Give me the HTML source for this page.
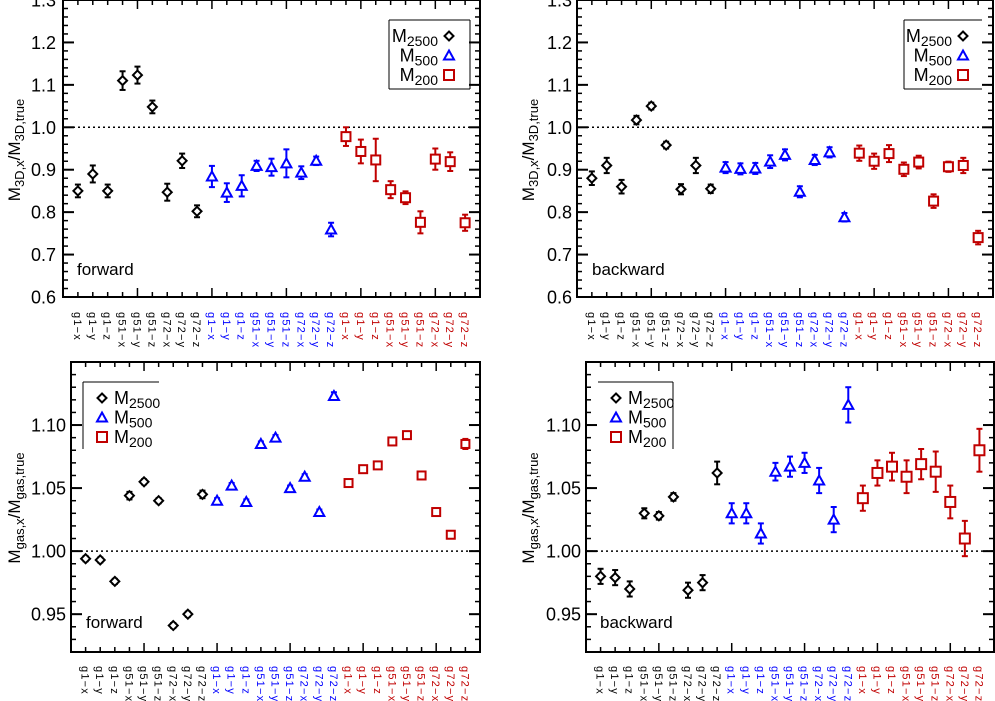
<!DOCTYPE html>
<html><head><meta charset="utf-8"><style>
html,body{margin:0;padding:0;background:#fff;}
svg{display:block;font-family:"Liberation Sans","DejaVu Sans",sans-serif;}
</style></head><body>
<svg id="fig" width="995" height="701" viewBox="0 0 995 701" xmlns="http://www.w3.org/2000/svg"></svg>
<script>
const categories=["g1\u2212x","g1\u2212y","g1\u2212z","g51\u2212x","g51\u2212y","g51\u2212z","g72\u2212x","g72\u2212y","g72\u2212z"];
const tlBlack=[0.850,0.890,0.850,1.110,1.123,1.048,0.847,0.921,0.802];
const tlBlackErr=[0.015,0.02,0.015,0.022,0.02,0.015,0.02,0.017,0.014];
const tlBlue=[0.884,0.846,0.862,0.909,0.906,0.915,0.893,0.921,0.759];
const tlBlueErr=[0.025,0.022,0.025,0.012,0.02,0.033,0.015,0.01,0.016];
const tlRed=[0.978,0.943,0.923,0.853,0.834,0.776,0.925,0.919,0.775];
const tlRedErr=[0.022,0.028,0.05,0.02,0.015,0.026,0.025,0.022,0.019];
const trBlack=[0.880,0.910,0.860,1.017,1.050,0.958,0.854,0.910,0.855];
const trBlackErr=[0.016,0.018,0.016,0.01,0.008,0.008,0.012,0.018,0.01];
const trBlue=[0.905,0.902,0.903,0.919,0.935,0.848,0.923,0.941,0.788];
const trBlueErr=[0.013,0.013,0.013,0.015,0.013,0.013,0.012,0.012,0.01];
const trRed=[0.939,0.920,0.938,0.901,0.918,0.826,0.907,0.910,0.740];
const trRedErr=[0.018,0.018,0.02,0.016,0.015,0.016,0.012,0.018,0.016];
const blBlack=[0.994,0.993,0.976,1.044,1.055,1.040,0.941,0.950,1.045];
const blBlackErr=[0.002,0.002,0.002,0.003,0.002,0.002,0.002,0.002,0.003];
const blBlue=[1.040,1.052,1.039,1.085,1.090,1.050,1.059,1.031,1.123];
const blBlueErr=[0.002,0.002,0.002,0.002,0.002,0.002,0.002,0.002,0.003];
const blRed=[1.054,1.065,1.068,1.087,1.092,1.060,1.031,1.013,1.085];
const blRedErr=[0.002,0.002,0.002,0.003,0.002,0.002,0.003,0.002,0.004];
const brBlack=[0.980,0.979,0.970,1.030,1.028,1.043,0.969,0.975,1.062];
const brBlackErr=[0.006,0.006,0.006,0.004,0.003,0.003,0.006,0.006,0.009];
const brBlue=[1.030,1.030,1.014,1.063,1.067,1.070,1.056,1.025,1.116];
const brBlueErr=[0.008,0.008,0.008,0.007,0.008,0.008,0.010,0.010,0.014];
const brRed=[1.042,1.062,1.067,1.059,1.069,1.063,1.039,1.010,1.080];
const brRedErr=[0.010,0.010,0.011,0.013,0.012,0.016,0.013,0.014,0.017];
const topTicks=["0.6","0.7","0.8","0.9","1.0","1.1","1.2","1.3"];
const botTicks=["0.95","1.00","1.05","1.10"];

const NS="http://www.w3.org/2000/svg";
const svg=document.getElementById('fig');
const BLACK="#000",BLUE="#0000ff",RED="#c00000";
function mk(tag,attrs,parent){const e=document.createElementNS(NS,tag);for(const k in attrs)e.setAttribute(k,attrs[k]);(parent||svg).appendChild(e);return e;}

function panel(cfg){
  const g=mk('g',{});
  
  
  const L=cfg.x0,R=cfg.x1,T=cfg.y0,B=cfg.y1;
  const xs=i=>L+(R-L)*(i/28);
  const ys=v=>B-(v-cfg.ymin)/(cfg.ymax-cfg.ymin)*(B-T);
  for(let v=cfg.ymin;v<=cfg.ymax+1e-9;v+=cfg.minor){
    const y=ys(v);if(y<T-0.5)continue;
    mk('line',{x1:L,x2:L+5,y1:y,y2:y,stroke:'#000','stroke-width':1.5},g);
    mk('line',{x1:R,x2:R-5,y1:y,y2:y,stroke:'#000','stroke-width':1.5},g);
  }
  cfg.ticks.forEach(t=>{
    const v=parseFloat(t),y=ys(v);
    mk('line',{x1:L,x2:L+11,y1:y,y2:y,stroke:'#000','stroke-width':2},g);
    mk('line',{x1:R,x2:R-11,y1:y,y2:y,stroke:'#000','stroke-width':2},g);
    const tx=mk('text',{x:cfg.labX,y:y+6.5,'text-anchor':'end','font-size':18},g);
    tx.textContent=t;
    
    
  });
  for(let i=1;i<28;i++){
    const len=i%5===0?9:5;
    mk('line',{x1:xs(i),x2:xs(i),y1:B,y2:B-len,stroke:'#000','stroke-width':1.5},g);
    mk('line',{x1:xs(i),x2:xs(i),y1:T,y2:T+len,stroke:'#000','stroke-width':1.5},g);
  }
  const fr=mk('rect',{x:L,y:T,width:R-L,height:B-T,fill:'none',stroke:'#000','stroke-width':2},g);
  
  
  const ref=mk('line',{x1:L,x2:R,y1:ys(1),y2:ys(1),stroke:'#000','stroke-width':1.5,'stroke-dasharray':'2,3'},g);
  
  
  const series=[[cfg.black,cfg.blackErr,BLACK,'diamond'],[cfg.blue,cfg.blueErr,BLUE,'triangle'],[cfg.red,cfg.redErr,RED,'square']];
  series.forEach((s,si)=>{
    s[0].forEach((v,j)=>{
      const i=si*9+j+1,x=xs(i),y=ys(v),e=s[1][j];
      const eg=mk('g',{},g);
      
      
      mk('line',{x1:x,x2:x,y1:ys(v+e),y2:ys(v-e),stroke:s[2],'stroke-width':2},eg);
      mk('line',{x1:x-3,x2:x+3,y1:ys(v+e),y2:ys(v+e),stroke:s[2],'stroke-width':2},eg);
      mk('line',{x1:x-3,x2:x+3,y1:ys(v-e),y2:ys(v-e),stroke:s[2],'stroke-width':2},eg);
      symbol(eg,s[3],x,y,s[2],cfg.sym);
    });
    categories.forEach((c,j)=>{
      const i=si*9+j+1,x=xs(i);
      const t=mk('text',{x:0,y:0,transform:`translate(${x-4},${cfg.labY}) rotate(90)`,'font-size':11,fill:s[2],'letter-spacing':'1.2'},g);
      t.textContent=c;
      
      
    });
  });
  const yt=mk('text',{transform:`translate(${cfg.titleX},${cfg.titleY}) rotate(-90)`,'text-anchor':'middle','font-size':17},g);
  yt.innerHTML=cfg.title;
  
  
  const lb=mk('text',{x:cfg.tagX,y:cfg.tagY,'font-size':17},g);
  lb.textContent=cfg.tag;
  
  
  legend(g,cfg);
}
function symbol(p,type,x,y,col,s){
  if(type==='diamond') mk('polygon',{points:`${x},${y-4.5} ${x+4.5},${y} ${x},${y+4.5} ${x-4.5},${y}`,fill:'#fff',stroke:col,'stroke-width':2},p);
  else if(type==='triangle') mk('polygon',{points:`${x},${y-5} ${x+5},${y+4} ${x-5},${y+4}`,fill:'#fff',stroke:col,'stroke-width':2},p);
  else mk('rect',{x:x-s,y:y-s,width:2*s,height:2*s,fill:'#fff',stroke:col,'stroke-width':2},p);
}
function legend(g,cfg){
  const lg=mk('g',{},g);
  
  
  const L=cfg.leg;
  L.lines.forEach(l=>mk('line',{x1:l[0],y1:l[1],x2:l[2],y2:l[3],stroke:'#000','stroke-width':1},lg));
  const names=[['2500',BLACK,'diamond'],['500',BLUE,'triangle'],['200',RED,'square']];
  names.forEach((n,k)=>{
    const y=L.rowY+k*19.5;
    const en=mk('g',{},lg);
    
    
    const t=mk('text',{x:L.textX,y:y+6,'font-size':18,'text-anchor':L.anchor},en);
    t.innerHTML=`M<tspan font-size="14" dy="4">${n[0]}</tspan>`;
    symbol(en,n[2],L.symX,y,n[1],5);
  });
}
panel({name:'panel-3d-forward',x0:63,x1:480,y0:0,y1:297,ymin:0.6,ymax:1.3,minor:0.02,ticks:topTicks,labX:56,labY:312,
  black:tlBlack,blackErr:tlBlackErr,blue:tlBlue,blueErr:tlBlueErr,red:tlRed,redErr:tlRedErr,sym:4.5,
  title:'M<tspan font-size="13" dy="4">3D,x</tspan><tspan dy="-4">/M</tspan><tspan font-size="13" dy="4">3D,true</tspan>',titleX:20,titleY:150,
  tag:'forward',tagX:77,tagY:275,
  leg:{lines:[[389,20,470,20],[389,20,389,89],[389,89,470,89],[470,20,470,89]],rowY:36,textX:438,symX:449,anchor:'end'}});
panel({name:'panel-3d-backward',x0:577,x1:993,y0:0,y1:297,ymin:0.6,ymax:1.3,minor:0.02,ticks:topTicks,labX:572,labY:312,
  black:trBlack,blackErr:trBlackErr,blue:trBlue,blueErr:trBlueErr,red:trRed,redErr:trRedErr,sym:4.5,
  title:'M<tspan font-size="13" dy="4">3D,x</tspan><tspan dy="-4">/M</tspan><tspan font-size="13" dy="4">3D,true</tspan>',titleX:534,titleY:150,
  tag:'backward',tagX:592,tagY:275,
  leg:{lines:[[904,20,982,20],[904,20,904,89],[904,89,982,89]],rowY:36,textX:952,symX:963,anchor:'end'}});
panel({name:'panel-gas-forward',x0:71,x1:480,y0:362,y1:652,ymin:0.92,ymax:1.15,minor:0.01,ticks:botTicks,labX:66,labY:666,
  black:blBlack,blackErr:blBlackErr,blue:blBlue,blueErr:blBlueErr,red:blRed,redErr:blRedErr,sym:4,
  title:'M<tspan font-size="13" dy="4">gas,x</tspan><tspan dy="-4">/M</tspan><tspan font-size="13" dy="4">gas,true</tspan>',titleX:20,titleY:508,
  tag:'forward',tagX:86,tagY:628,
  leg:{lines:[[83,382,159,382],[83,382,83,449]],rowY:398,textX:114,symX:102,anchor:'start'}});
panel({name:'panel-gas-backward',x0:586,x1:994,y0:362,y1:652,ymin:0.92,ymax:1.15,minor:0.01,ticks:botTicks,labX:581,labY:666,
  black:brBlack,blackErr:brBlackErr,blue:brBlue,blueErr:brBlueErr,red:brRed,redErr:brRedErr,sym:5,
  title:'M<tspan font-size="13" dy="4">gas,x</tspan><tspan dy="-4">/M</tspan><tspan font-size="13" dy="4">gas,true</tspan>',titleX:534,titleY:508,
  tag:'backward',tagX:600,tagY:628,
  leg:{lines:[[598,382,673,382],[673,382,673,449]],rowY:398,textX:628,symX:616,anchor:'start'}});
</script>
</body></html>
